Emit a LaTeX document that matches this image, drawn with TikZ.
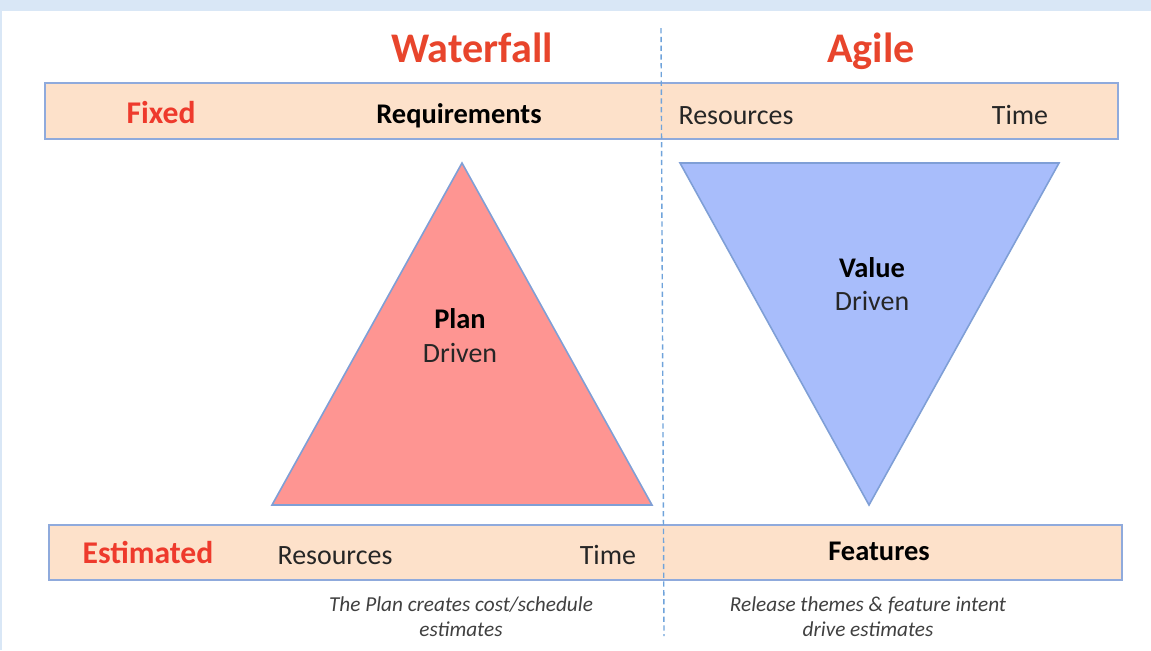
\documentclass[tikz,border=0pt]{standalone}
\usepackage{fontspec}
\setmainfont{Carlito}
\definecolor{band}{HTML}{D9E7F6}
\definecolor{peach}{HTML}{FDE1CA}
\definecolor{barline}{HTML}{8FAADC}
\definecolor{titlered}{HTML}{E8452C}
\definecolor{labred}{HTML}{EE3A2C}
\definecolor{salmon}{HTML}{FE9592}
\definecolor{periw}{HTML}{A8BDFB}
\definecolor{triline}{HTML}{7F9FD6}
\definecolor{dashblue}{HTML}{6FA3DB}
\definecolor{captgray}{HTML}{404040}
\begin{document}
\begin{tikzpicture}[x=0.02cm,y=-0.02cm,
  bar/.style={draw=barline,line width=1.2pt,fill=peach},
  tri/.style={draw=triline,line width=0.9pt},
  title/.style={font=\fontsize{24}{28}\selectfont\bfseries,text=titlered,inner sep=0pt,anchor=base},
  lab/.style={font=\fontsize{15.9}{18}\selectfont,text=black!85,inner sep=0pt,anchor=base},
  blab/.style={font=\fontsize{16.2}{18}\selectfont\bfseries,text=black,inner sep=0pt,anchor=base},
  rlab/.style={font=\fontsize{18}{20}\selectfont\bfseries,text=labred,inner sep=0pt,anchor=base},
  capt/.style={font=\fontsize{12.1}{14.2}\selectfont\itshape,text=captgray,align=center,inner sep=0pt,anchor=base}]
\useasboundingbox (0,0) rectangle (1151,650);
\fill[white] (0,0) rectangle (1151,650);
\fill[band] (0,0) rectangle (1151,11);
\draw[band,line width=1pt] (1,11) -- (1,650);
% bars
\draw[bar] (45,83) rectangle (1118,139);
\draw[bar] (49,525) rectangle (1122,580);
% dashed divider
\coordinate (dtop) at (661,28);
\coordinate (dbot) at (664,636);
\draw[dashblue,line width=0.8pt,dash pattern=on 3pt off 2pt] (dtop) -- (dbot);
% triangles
\draw[tri,fill=salmon] (462,163) -- (652,505) -- (272,505) -- cycle;
\draw[tri,fill=periw] (680,163) -- (1059,163) -- (869,505) -- cycle;
% titles
\node[title] (wf) at (472,62) {Waterfall};
\node[title] (ag) at (871,62) {Agile};
% top bar labels
\node[rlab] (fixed) at (161,123) {Fixed};
\node[blab] (req) at (459,123) {Requirements};
\node[lab] (res1) at (736,124) {Resources};
\node[lab] (time1) at (1020,124) {Time};
% triangle labels
\node[blab] (plan) at (460,328) {Plan};
\node[lab] (drv1) at (460,362) {Driven};
\node[blab] (value) at (872,277) {Value};
\node[lab] (drv2) at (872,310) {Driven};
% bottom bar labels
\node[rlab] (est) at (148,563) {Estimated};
\node[lab] (res2) at (335,564) {Resources};
\node[lab] (time2) at (608,564) {Time};
\node[blab] (feat) at (879,560) {Features};
% captions
\node[capt] (c1a) at (461,611) {The Plan creates cost/schedule};
\node[capt] (c1b) at (461,636) {estimates};
\node[capt] (c2a) at (868,611) {Release themes \& feature intent};
\node[capt] (c2b) at (868,636) {drive estimates};
\end{tikzpicture}
\end{document}
